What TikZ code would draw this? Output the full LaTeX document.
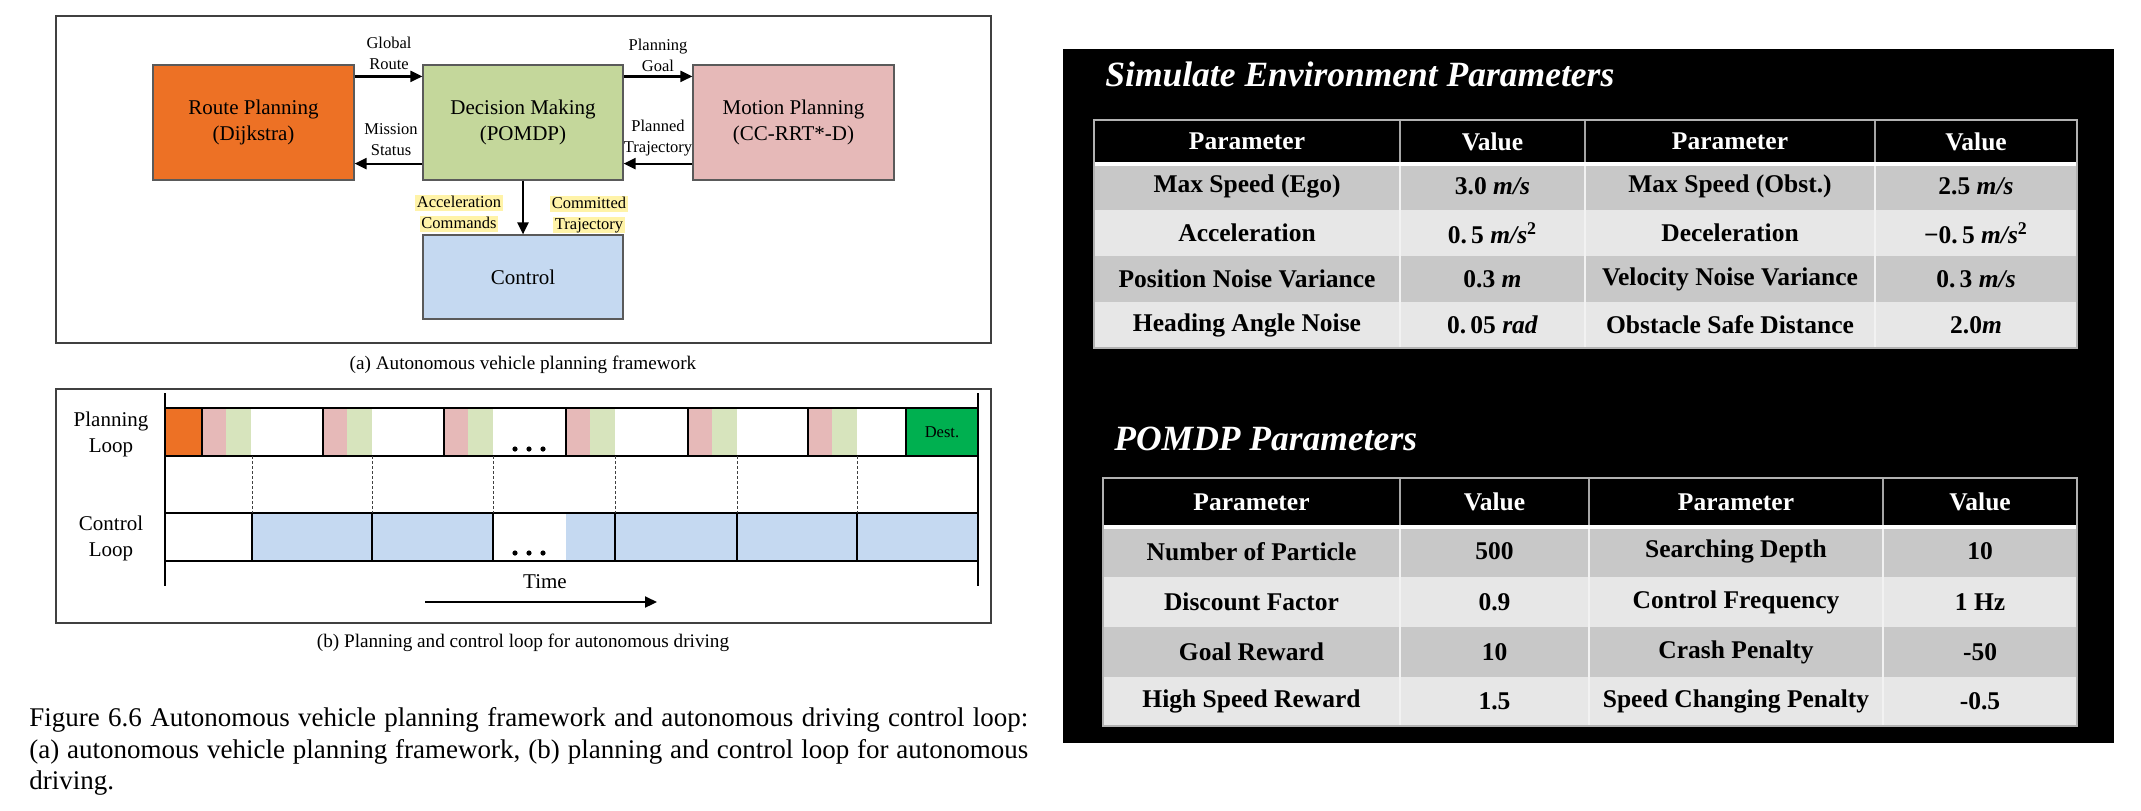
\documentclass[tikz,border=0pt]{standalone}
\usepackage{fontspec}
\setmainfont{Liberation Serif}
\usetikzlibrary{arrows.meta}
\definecolor{routeor}{HTML}{ED7125}
\definecolor{decgreen}{HTML}{C4D79B}
\definecolor{motpink}{HTML}{E6B9B8}
\definecolor{ctrlblue}{HTML}{C5D9F1}
\definecolor{hiyel}{HTML}{FFF3A8}
\definecolor{plgreen}{HTML}{D7E4BD}
\definecolor{destgreen}{HTML}{00B050}
\definecolor{rowdark}{HTML}{C8C8C8}
\definecolor{rowlight}{HTML}{E7E7E7}
\definecolor{framegray}{HTML}{404040}
\definecolor{boxgray}{HTML}{5A5A5A}
\newcommand\rowA[6]{%
 \node[cell] (#1-1) at (1247,#2) {#3};
 \node[cell] (#1-2) at (1492.5,#2) {#4};
 \node[cell] (#1-3) at (1730,#2) {#5};
 \node[cell] (#1-4) at (1976,#2) {#6};}
\newcommand\rowB[6]{%
 \node[cell] (#1-1) at (1251.5,#2) {#3};
 \node[cell] (#1-2) at (1494.5,#2) {#4};
 \node[cell] (#1-3) at (1736,#2) {#5};
 \node[cell] (#1-4) at (1980,#2) {#6};}
\newcommand\mi[1]{\textit{#1}}
\begin{document}
\begin{tikzpicture}[x=0.5pt,y=-0.5pt,
  blk/.style={draw=boxgray, line width=0.6pt, inner sep=0, align=center,
    font=\fontsize{10.5}{13}\selectfont, minimum height=57.5pt},
  arr/.style={-{Triangle[length=6pt,width=5.5pt]}, line width=1.1pt},
  lbl/.style={align=center, font=\fontsize{8.25}{10.5}\selectfont, inner sep=0},
  hl/.style={fill=hiyel, inner xsep=0.8pt, inner ysep=0pt, text height=6pt, text depth=1.9pt,
    font=\fontsize{8.25}{10}\selectfont},
  captxt/.style={font=\fontsize{9.6}{11}\selectfont, inner sep=0},
  lab/.style={align=center, font=\fontsize{10.5}{13}\selectfont, inner sep=0},
  rowline/.style={line width=0.85pt},
  cell/.style={font=\fontsize{12.75}{14}\selectfont\bfseries, inner sep=0},
  ttl/.style={font=\fontsize{17.75}{20}\selectfont\bfseries\itshape, text=white, inner sep=0, anchor=west},
  fcap/.style={font=\fontsize{13.5}{15}\selectfont, inner sep=0, anchor=west}]
\useasboundingbox (0,0) rectangle (2141,810);
\fill[white] (0,0) rectangle (2141,810);

% ---------- (a) framework ----------
\draw[framegray, line width=0.8pt] (56,16) rectangle (991,343);
\node[blk, fill=routeor, minimum width=100.5pt] (rp) at (253.5,122.5) {Route Planning\\(Dijkstra)};
\node[blk, fill=decgreen, minimum width=100pt] (dm) at (523,122.5) {Decision Making\\(POMDP)};
\node[blk, fill=motpink, minimum width=100.5pt] (mp) at (793.5,122.5) {Motion Planning\\(CC-RRT*-D)};
\node[blk, fill=ctrlblue, minimum width=100pt, minimum height=42pt] (ct) at (523,277) {Control};
\draw[arr] ([yshift=-6pt]rp.north east) -- ([yshift=-6pt]dm.north west);
\draw[arr] ([yshift=-6pt]dm.north east) -- ([yshift=-6pt]mp.north west);
\draw[arr] ([yshift=8.5pt]dm.south west) -- ([yshift=8.5pt]rp.south east);
\draw[arr] ([yshift=8.5pt]mp.south west) -- ([yshift=8.5pt]dm.south east);
\draw[arr] (dm.south) -- (ct.north);
\node[lbl] (lgr) at (389,53.5) {Global\\Route};
\node[lbl] (lpg) at (658,55) {Planning\\Goal};
\node[lbl] (lms) at (391,139.5) {Mission\\Status};
\node[lbl] (lpt) at (658,138.5) {Planned\\Trajectory};
\node[hl] (la1) at (459,203) {Acceleration};
\node[hl] (la2) at (459,224) {Commands};
\node[hl] (lc1) at (589,204) {Committed};
\node[hl] (lc2) at (589,225) {Trajectory};
\node[captxt] (capa) at (523,365) {(a) Autonomous vehicle planning framework};

% ---------- (b) loops ----------
\draw[framegray, line width=0.8pt] (56,389) rectangle (991,623);
\fill[routeor] (165,408) rectangle (202,456);
\foreach \s in {202,323,444,566,688,808}{
  \fill[motpink] (\s,408) rectangle (\s+24,456);
  \fill[plgreen] (\s+24,408) rectangle (\s+49,456);
}
\fill[destgreen] (906,408) rectangle (978,456);
\fill[ctrlblue] (252,513) rectangle (493,561);
\fill[ctrlblue] (566,513) rectangle (978,561);
\foreach \yy in {408,456,513,561} \draw[rowline] (165,\yy) -- (978,\yy);
\foreach \xx in {202,323,444,566,688,808,906} \draw[rowline] (\xx,408) -- (\xx,456);
\foreach \xx in {252,372,493,615,737,857} {
  \draw[rowline] (\xx,513) -- (\xx,561);
  \draw[black!75, line width=0.45pt, dash pattern=on 1.5pt off 1pt] (\xx,456) -- (\xx,513);
}
\draw[rowline] (165,393) -- (165,586);
\draw[rowline] (978,393) -- (978,586);
\foreach \xx in {515,529,543}{
  \fill (\xx,449) circle[radius=1.3pt];
  \fill (\xx,553) circle[radius=1.3pt];
}
\node[lab] (pl) at (111,434) {Planning\\Loop};
\node[lab] (cl) at (111,538.5) {Control\\Loop};
\node[font=\fontsize{8.25}{10}\selectfont, inner sep=0] (dest) at (942,432) {Dest.};
\node[lab] (time) at (545,582) {Time};
\coordinate (ta) at (425,602);
\coordinate (tb) at (657,602);
\draw[arr] (ta) -- (tb);
\node[captxt] (capb) at (523,643) {(b) Planning and control loop for autonomous driving};

% ---------- figure caption ----------
\node[fcap] (fc1) at (29,720) {\makebox[499.5pt][s]{Figure 6.6 Autonomous vehicle planning framework and autonomous driving control loop:}};
\node[fcap] (fc2) at (29,752) {\makebox[499.5pt][s]{(a) autonomous vehicle planning framework, (b) planning and control loop for autonomous}};
\node[fcap] (fc3) at (29,783) {driving.};

% ---------- right panel ----------
\fill[black] (1063,49) rectangle (2114,743);
\node[ttl] (t1) at (1105,74) {Simulate Environment Parameters};
\node[ttl] (t2) at (1114,439) {POMDP Parameters};

% table 1
\fill[rowdark] (1094,163) rectangle (2077,210);
\fill[rowlight] (1094,210) rectangle (2077,256);
\fill[rowdark] (1094,256) rectangle (2077,302);
\fill[rowlight] (1094,302) rectangle (2077,348);
\foreach \xx in {1400,1585,1875}{
  \draw[gray!70, line width=0.6pt] (\xx,120) -- (\xx,163);
  \draw[white!95!black, line width=0.6pt] (\xx,163) -- (\xx,348);
}
\draw[white, line width=1.6pt] (1094,164) -- (2077,164);
\draw[gray!60, line width=0.7pt] (1094,120) rectangle (2077,348);
\begin{scope}[every node/.append style={text=white}]
\rowA{ah}{141.5}{Parameter}{Value}{Parameter}{Value}
\end{scope}
\rowA{a1}{186.5}{Max Speed (Ego)}{3.0 \mi{m/s}}{Max Speed (Obst.)}{2.5 \mi{m/s}}
\rowA{a2}{233}{Acceleration}{0.\,5 \mi{m/s}\textsuperscript{2}}{Deceleration}{−0.\,5 \mi{m/s}\textsuperscript{2}}
\rowA{a3}{279}{Position Noise Variance}{0.3 \mi{m}}{Velocity Noise Variance}{0.\,3 \mi{m/s}}
\rowA{a4}{325}{Heading Angle Noise}{0.\,05 \mi{rad}}{Obstacle Safe Distance}{2.0\mi{m}}

% table 2
\fill[rowdark] (1103,526) rectangle (2077,577);
\fill[rowlight] (1103,577) rectangle (2077,627);
\fill[rowdark] (1103,627) rectangle (2077,677);
\fill[rowlight] (1103,677) rectangle (2077,726);
\foreach \xx in {1400,1589,1883}{
  \draw[gray!70, line width=0.6pt] (\xx,478) -- (\xx,526);
  \draw[white!95!black, line width=0.6pt] (\xx,526) -- (\xx,726);
}
\draw[white, line width=1.6pt] (1103,527) -- (2077,527);
\draw[gray!60, line width=0.7pt] (1103,478) rectangle (2077,726);
\begin{scope}[every node/.append style={text=white}]
\rowB{bh}{502}{Parameter}{Value}{Parameter}{Value}
\end{scope}
\rowB{b1}{551.5}{Number of Particle}{500}{Searching Depth}{10}
\rowB{b2}{602}{Discount Factor}{0.9}{Control Frequency}{1 Hz}
\rowB{b3}{652}{Goal Reward}{10}{Crash Penalty}{-50}
\rowB{b4}{701.5}{High Speed Reward}{1.5}{Speed Changing Penalty}{-0.5}
\end{tikzpicture}
\end{document}
